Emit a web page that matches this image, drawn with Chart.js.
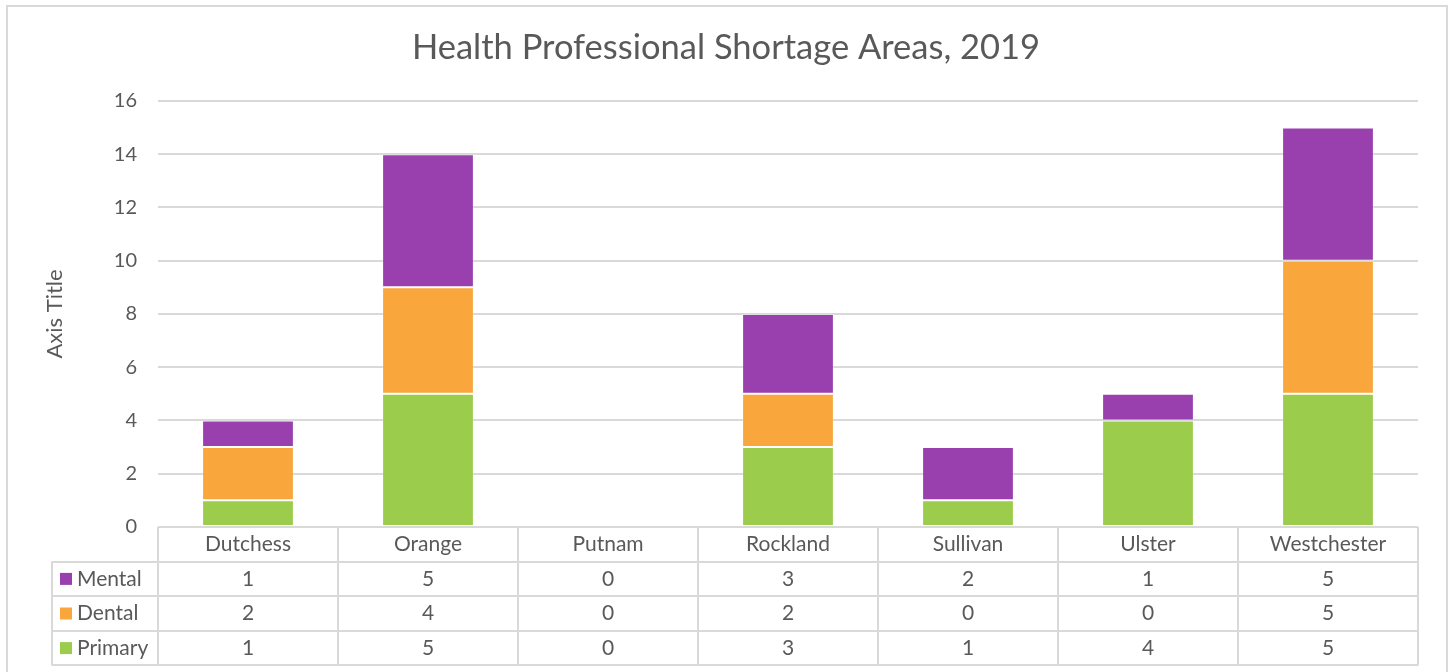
<!DOCTYPE html>
<html>
<head>
<meta charset="utf-8">
<script src="https://cdn.jsdelivr.net/npm/chart.js@4"></script>
<style>
    body { margin: 0; background: #ffffff; overflow: hidden; }
    #frame {
        position: absolute; left: 6px; top: 5px; width: 1438px; height: 700px;
        border: 2px solid #d9d9d9;
    }
    #wrap { position: absolute; left: 0; top: 0; width: 1450px; height: 672px; }
</style>
</head>
<body>
<div id="frame"></div>
<div id="wrap"><canvas id="hpsa-chart" width="1450" height="672"></canvas></div>
<script>
// Chart data
const counties = ['Dutchess', 'Orange', 'Putnam', 'Rockland', 'Sullivan', 'Ulster', 'Westchester'];
const primaryAreas = [1, 5, 0, 3, 1, 4, 5];
const dentalAreas = [2, 4, 0, 2, 0, 0, 5];
const mentalAreas = [1, 5, 0, 3, 2, 1, 5];
const yTicks = [0, 2, 4, 6, 8, 10, 12, 14, 16];

const FONT = 'Lato';
const TEXT_COLOR = '#595959';
const LINE_COLOR = '#d9d9d9';

/**
 * Draws the data table under the plot, using the x scale for column positions
 */
const dataTablePlugin = {
    id: 'dataTable',
    afterDraw(chart) {
        const ctx = chart.ctx;
        const area = chart.chartArea;
        const xScale = chart.scales.x;
        const rows = chart.data.datasets.slice().reverse();
        const headerTop = area.bottom;
        const rowH = 34.6;
        const tableBottom = headerTop + rowH * (rows.length + 1);
        const legendLeft = 52;
        const colW = (area.right - area.left) / counties.length;

        ctx.save();
        ctx.strokeStyle = LINE_COLOR;
        ctx.lineWidth = 2;

        // horizontal lines
        for (let r = 0; r <= rows.length + 1; r++) {
            const y = Math.round(headerTop + rowH * r);
            ctx.beginPath();
            ctx.moveTo(r === 0 ? area.left : legendLeft, y);
            ctx.lineTo(area.right, y);
            ctx.stroke();
        }
        // vertical lines
        for (let c = 0; c <= counties.length; c++) {
            const x = Math.round(area.left + colW * c);
            ctx.beginPath();
            ctx.moveTo(x, headerTop);
            ctx.lineTo(x, tableBottom);
            ctx.stroke();
        }
        ctx.beginPath();
        ctx.moveTo(legendLeft, headerTop + rowH);
        ctx.lineTo(legendLeft, tableBottom);
        ctx.stroke();

        // text
        ctx.fillStyle = TEXT_COLOR;
        ctx.font = '21px ' + FONT;
        ctx.textBaseline = 'middle';
        ctx.textAlign = 'center';
        counties.forEach(function(name, i) {
            ctx.fillText(name, xScale.getPixelForValue(i), headerTop + rowH / 2);
        });
        rows.forEach(function(ds, r) {
            const yMid = headerTop + rowH * (r + 1.5);
            ctx.fillStyle = ds.backgroundColor;
            ctx.fillRect(60, yMid - 6, 12, 12);
            ctx.fillStyle = TEXT_COLOR;
            ctx.textAlign = 'left';
            ctx.fillText(ds.label, 77, yMid);
            ctx.textAlign = 'center';
            ds.data.forEach(function(v, i) {
                ctx.fillText(String(v), xScale.getPixelForValue(i), yMid);
            });
        });
        ctx.restore();
    }
};

const ctx = document.getElementById('hpsa-chart');
new Chart(ctx, {
    type: 'bar',
    data: {
        labels: counties,
        datasets: [
            { label: 'Primary', data: primaryAreas, backgroundColor: '#9bcc4c' },
            { label: 'Dental', data: dentalAreas, backgroundColor: '#f9a73d' },
            { label: 'Mental', data: mentalAreas, backgroundColor: '#9a40ae' }
        ]
    },
    options: {
        responsive: false,
        animation: false,
        datasets: {
            bar: {
                barPercentage: 0.51,
                categoryPercentage: 1,
                borderWidth: 1,
                borderColor: 'rgba(255, 255, 255, 0.2)',
                borderSkipped: false
            }
        },
        layout: {
            padding: { left: 34, right: 32, top: 0, bottom: 145 }
        },
        plugins: {
            legend: { display: false },
            tooltip: { enabled: false },
            title: {
                display: true,
                text: 'Health Professional Shortage Areas, 2019',
                color: TEXT_COLOR,
                font: { family: FONT, size: 34.5, weight: 'normal' },
                padding: { top: 27, bottom: 32.5 }
            }
        },
        scales: {
            x: {
                display: false,
                stacked: true
            },
            y: {
                stacked: true,
                min: 0,
                max: 16,
                afterFit: function(scale) { scale.width = 124; },
                afterBuildTicks: function(scale) {
                    scale.ticks = yTicks.map(v => ({ value: v }));
                },
                border: { display: false },
                grid: { color: LINE_COLOR, lineWidth: 2, drawTicks: false },
                ticks: {
                    color: TEXT_COLOR,
                    padding: 21,
                    font: { family: FONT, size: 20 }
                },
                title: {
                    display: true,
                    text: 'Axis Title',
                    color: TEXT_COLOR,
                    font: { family: FONT, size: 22 },
                    padding: { top: 8, bottom: 0 }
                }
            }
        }
    },
    plugins: [dataTablePlugin]
});
</script>
</body>
</html>
